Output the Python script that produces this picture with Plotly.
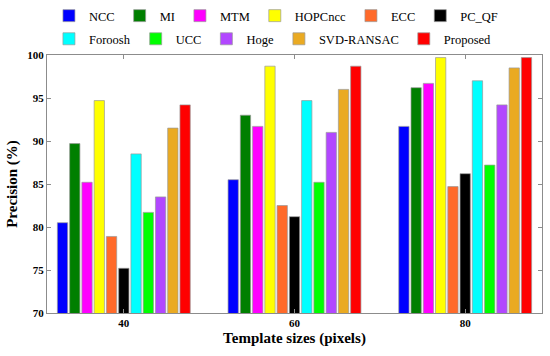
import plotly.graph_objects as go

categories = ["40", "60", "80"]
methods = ["NCC", "MI", "MTM", "HOPCncc", "ECC", "PC_QF",
           "Foroosh", "UCC", "Hoge", "SVD-RANSAC", "Proposed"]
colors = ["#0000ff", "#007f00", "#ff00ff", "#ffff00", "#ff6a2a", "#000000",
          "#00ffff", "#00ff00", "#b247ff", "#eaaa22", "#ff0000"]
values = {
    "NCC":        [80.5, 85.5, 91.7],
    "MI":         [89.7, 93.0, 96.2],
    "MTM":        [85.2, 91.7, 96.7],
    "HOPCncc":    [94.7, 98.7, 99.7],
    "ECC":        [78.9, 82.5, 84.7],
    "PC_QF":      [75.2, 81.2, 86.2],
    "Foroosh":    [88.5, 94.7, 97.0],
    "UCC":        [81.7, 85.2, 87.2],
    "Hoge":       [83.5, 91.0, 94.2],
    "SVD-RANSAC": [91.5, 96.0, 98.5],
    "Proposed":   [94.2, 98.7, 99.7],
}
y_ticks = [70, 75, 80, 85, 90, 95, 100]

FONT = "Liberation Serif"
fig = go.Figure()
for i, (m, c) in enumerate(zip(methods, colors)):
    fig.add_trace(go.Bar(
        x=[0, 1, 2], y=values[m], name=m,
        marker=dict(color=c, line=dict(color="#9a9a9a", width=0.7)),
        legend="legend" if i < 6 else "legend2",
    ))

axis_common = dict(showline=True, linecolor="#8c8c8c", linewidth=1, mirror="ticks",
                   ticks="inside", tickcolor="#8c8c8c", ticklen=4, showgrid=False,
                   zeroline=False, automargin=False,
                   tickfont=dict(family=FONT, size=11, color="black", weight="bold"))

fig.update_layout(
    width=550, height=356,
    margin=dict(l=47, r=8, t=55, b=43, autoexpand=False),
    plot_bgcolor="white", paper_bgcolor="white",
    barmode="group", bargap=0.21, bargroupgap=0.16,
    font=dict(family=FONT, color="black"),
    xaxis=dict(tickvals=[0, 1, 2], ticktext=categories, range=[-0.45, 2.45],
               title=dict(text="Template sizes (pixels)", standoff=4,
                          font=dict(family=FONT, size=15, weight="bold")),
               **axis_common),
    yaxis=dict(range=[70, 100], tickvals=y_ticks,
               title=dict(text="Precision (%)", standoff=6,
                          font=dict(family=FONT, size=15, weight="bold")),
               **axis_common),
    legend=dict(orientation="h", xref="container", yref="container",
                x=0.089, y=0.955, xanchor="left", yanchor="middle",
                font=dict(family=FONT, size=12.5), itemwidth=30,
                bgcolor="rgba(0,0,0,0)", traceorder="normal"),
    legend2=dict(orientation="h", xref="container", yref="container",
                 x=0.089, y=0.89, xanchor="left", yanchor="middle",
                 font=dict(family=FONT, size=12.5), itemwidth=30,
                 bgcolor="rgba(0,0,0,0)", traceorder="normal"),
)

fig.write_html("out.html", config={"displayModeBar": False},
               post_script="document.body.style.margin='0';")
